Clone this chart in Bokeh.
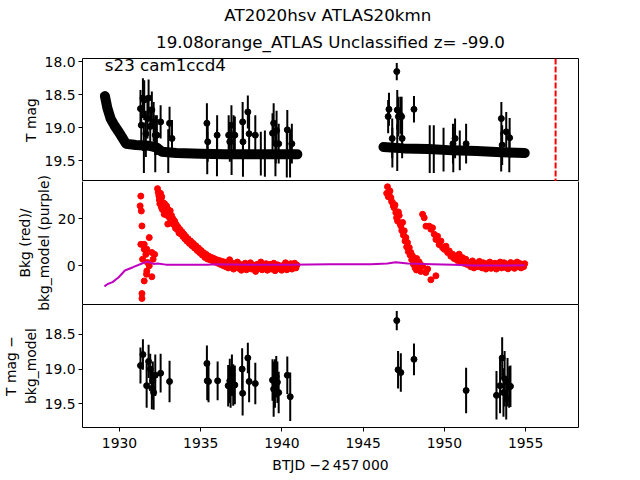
from bokeh.plotting import figure
from bokeh.layouts import column
from bokeh.models import Range1d, FixedTicker, NumeralTickFormatter, Span, Label, LinearAxis, Title
from bokeh.embed import file_html
from bokeh.resources import INLINE

TITLE_1 = "AT2020hsv  ATLAS20kmn"
TITLE_2 = "19.08orange_ATLAS Unclassified z= -99.0"
SECTOR_TEXT = "s23 cam1ccd4"
YLABEL_1 = "T mag"
YLABEL_2 = "Bkg (red)/\nbkg_model (purple)"
YLABEL_3 = "T mag \u2212\nbkg_model"
XLABEL = "BTJD \u22122\u2009457\u2009000"

# ---- top panel: dense light curve (centre of the dense band of points)
band1_t = [1929.10, 1929.25, 1929.45, 1929.70, 1929.95, 1930.20, 1930.40, 1931.00, 1931.80,
           1932.30, 1932.60, 1933.50, 1935.00, 1936.50, 1938.00, 1939.50, 1940.95]
band1_mag = [18.52, 18.70, 18.86, 18.97, 19.06, 19.16, 19.24, 19.26, 19.27,
             19.30, 19.36, 19.38, 19.39, 19.40, 19.40, 19.40, 19.40]
band2_t = [1946.25, 1947.50, 1949.00, 1950.50, 1952.00, 1953.50, 1954.95]
band2_mag = [19.29, 19.31, 19.32, 19.34, 19.35, 19.37, 19.38]

# top panel: individual points with error bars (time, mag, err)
top_points = [
    (1931.29, 18.71, 0.28), (1931.34, 18.96, 0.30), (1931.44, 18.55, 0.30), (1931.52, 18.58, 0.30),
    (1931.62, 19.09, 0.35), (1931.72, 18.86, 0.30), (1931.79, 18.55, 0.28), (1931.89, 18.98, 0.30),
    (1931.99, 18.73, 0.28), (1932.10, 18.91, 0.30), (1932.20, 19.11, 0.30), (1932.30, 19.11, 0.30),
    (1932.53, 18.91, 0.25), (1933.08, 18.93, 0.25), (1933.23, 19.16, 0.28), (1935.38, 18.93, 0.30),
    (1935.43, 19.21, 0.30), (1936.01, 19.11, 0.30), (1936.72, 19.11, 0.30), (1936.79, 19.21, 0.30),
    (1936.89, 18.96, 0.30), (1937.02, 19.11, 0.30), (1937.10, 19.11, 0.28), (1937.58, 18.91, 0.30),
    (1937.60, 19.21, 0.30), (1937.90, 18.76, 0.25), (1937.98, 19.09, 0.30), (1938.36, 19.11, 0.30),
    (1939.42, 19.08, 0.30), (1939.49, 18.93, 0.30), (1939.62, 19.24, 0.30), (1939.67, 19.04, 0.30),
    (1939.80, 19.24, 0.30), (1940.33, 19.03, 0.30), (1940.61, 19.24, 0.30),
    (1946.54, 18.83, 0.25), (1946.59, 18.72, 0.25), (1946.79, 19.16, 0.30), (1947.07, 18.15, 0.13),
    (1947.10, 18.73, 0.30), (1947.17, 18.83, 0.30), (1947.30, 18.81, 0.28), (1947.37, 18.83, 0.30),
    (1947.40, 19.16, 0.30), (1948.13, 18.72, 0.20), (1950.53, 19.24, 0.30), (1950.66, 19.16, 0.30),
    (1951.34, 19.24, 0.30), (1953.51, 18.86, 0.25), (1953.56, 19.26, 0.30), (1953.81, 19.06, 0.30),
    (1954.02, 19.15, 0.30),
    (1931.50, 19.30, 0.38), (1932.20, 19.32, 0.35), (1933.00, 19.35, 0.33), (1935.40, 19.38, 0.32),
    (1936.00, 19.38, 0.35), (1936.90, 19.38, 0.33), (1937.60, 19.39, 0.35), (1938.70, 19.39, 0.33),
    (1938.95, 19.39, 0.35), (1939.60, 19.39, 0.34), (1940.30, 19.39, 0.36), (1940.50, 19.39, 0.36),
    (1946.80, 19.30, 0.30), (1947.10, 19.30, 0.35), (1949.10, 19.32, 0.36), (1949.35, 19.32, 0.36),
    (1949.95, 19.33, 0.33), (1950.55, 19.33, 0.34), (1950.95, 19.34, 0.30), (1953.50, 19.36, 0.30),
    (1954.00, 19.37, 0.30),
]

marker_time = 1956.85  # red dashed line

# ---- middle panel: background (red) and background model (purple)
bkg_points = [
    # early spike
    (1931.31, 29.8), (1931.27, 25.6), (1931.34, 23.4), (1931.38, 17.0), (1931.31, 9.1), (1931.52, 9.1),
    (1931.52, 7.0), (1931.42, 2.7), (1931.62, 4.8), (1931.68, 7.0), (1931.83, 12.0), (1931.72, 1.3),
    (1931.68, -2.3), (1931.66, -3.7), (1931.52, -6.6), (1931.83, -0.1), (1931.99, 5.6), (1932.07, 2.7),
    (1932.16, 4.8), (1931.99, -4.8), (1931.38, -12.0), (1931.38, -14.1),
    # first orbit decay
    (1932.34, 33.0), (1932.38, 31.5), (1932.42, 30.0), (1932.45, 28.2), (1932.48, 26.5), (1932.52, 31.0),
    (1932.55, 27.5), (1932.58, 25.0), (1932.60, 29.5), (1932.64, 24.0), (1932.68, 27.0), (1932.72, 25.5),
    (1932.75, 22.0), (1932.78, 26.5), (1932.82, 24.5), (1932.86, 23.0), (1932.90, 25.5), (1932.94, 21.5),
    (1932.97, 17.8), (1933.00, 24.0), (1933.04, 22.5), (1933.08, 20.5), (1933.12, 23.5), (1933.16, 19.5),
    (1933.20, 21.5), (1933.25, 18.0), (1933.30, 20.0), (1933.35, 17.5), (1933.40, 19.0), (1933.45, 16.0),
    (1933.50, 17.5), (1933.55, 15.5), (1933.60, 16.5), (1933.66, 14.0), (1933.72, 15.5), (1933.78, 13.5),
    (1933.84, 14.5), (1933.90, 12.5), (1933.96, 13.5), (1934.02, 11.5), (1934.08, 12.5), (1934.15, 10.5),
    (1934.22, 11.5), (1934.30, 9.5), (1934.38, 10.5), (1934.46, 8.5), (1934.54, 9.5), (1934.62, 7.5),
    (1934.70, 8.5), (1934.78, 6.5), (1934.86, 7.5), (1934.94, 5.5), (1935.02, 6.5), (1935.10, 4.5),
    (1935.18, 5.5), (1935.26, 3.5), (1935.34, 4.8), (1935.42, 2.8), (1935.50, 4.0), (1935.58, 2.5),
    (1935.66, 3.5), (1935.74, 2.0), (1935.82, 3.0), (1935.90, 1.5), (1935.98, 2.5), (1936.06, 1.0),
    (1936.14, 2.2), (1936.22, 0.5), (1936.30, 1.8), (1936.38, 0.0), (1936.46, 1.5), (1936.54, -0.5),
    (1936.62, 1.2), (1936.70, -1.0), (1936.78, 2.5), (1936.86, -0.2), (1936.94, 1.0), (1937.02, -1.5),
    (1937.10, 0.8), (1937.18, -0.8), (1937.26, 1.5), (1937.34, -1.2), (1937.42, 0.5), (1937.50, -2.0),
    (1937.58, 0.2), (1937.66, -1.0), (1937.74, 1.0), (1937.82, -1.8), (1937.90, 0.0), (1937.98, -0.8),
    (1938.06, 1.2), (1938.14, -1.5), (1938.22, 0.2), (1938.30, -1.0), (1938.38, -2.5), (1938.46, 0.5),
    (1938.54, -1.2), (1938.62, -0.3), (1938.70, 1.5), (1938.78, -1.8), (1938.86, 0.0), (1938.94, -1.0),
    (1939.02, 0.8), (1939.10, -2.0), (1939.18, -0.5), (1939.26, 0.5), (1939.34, -1.5), (1939.42, -0.2),
    (1939.50, 1.0), (1939.58, -2.2), (1939.66, -0.8), (1939.74, 0.3), (1939.82, -1.3), (1939.90, -0.2),
    (1939.98, -2.0), (1940.06, 0.0), (1940.14, -1.0), (1940.22, 1.2), (1940.30, -1.8), (1940.38, -0.3),
    (1940.46, -1.2), (1940.54, 0.8), (1940.62, -1.5), (1940.70, -0.5), (1940.78, 1.0), (1940.86, -1.0),
    (1940.92, 0.2),
    # second orbit, first branch
    (1946.45, 31.0), (1946.50, 33.8), (1946.55, 29.5), (1946.60, 30.5), (1946.65, 32.0), (1946.71, 29.1),
    (1946.75, 27.5), (1946.81, 27.0), (1946.86, 25.5), (1946.91, 24.8), (1946.96, 26.0), (1947.01, 22.7),
    (1947.06, 20.5), (1947.12, 19.1), (1947.17, 23.0), (1947.22, 21.5), (1947.27, 18.0), (1947.32, 17.0),
    (1947.38, 15.0), (1947.43, 18.5), (1947.48, 13.0), (1947.53, 14.9), (1947.58, 10.5), (1947.63, 12.0),
    (1947.68, 8.0), (1947.73, 9.9), (1947.78, 6.0), (1947.84, 7.7), (1947.89, 4.5), (1947.94, 5.6),
    (1947.99, 2.5), (1948.04, 4.1), (1948.10, 0.5), (1948.15, 2.0), (1948.20, -1.0), (1948.25, 0.6),
    (1948.30, 3.0), (1948.28, -1.9), (1948.36, -1.0), (1948.45, 1.5), (1948.55, -2.5), (1948.66, -0.1),
    (1948.86, -3.0), (1948.97, -1.5), (1949.17, -6.1), (1949.48, -4.4),
    # second orbit, second branch
    (1948.66, 22.0), (1948.76, 20.5), (1948.87, 16.9), (1949.07, 16.9), (1949.17, 15.6), (1949.27, 16.2),
    (1949.38, 13.4), (1949.48, 11.2), (1949.58, 12.6), (1949.68, 9.0), (1949.79, 10.5), (1949.89, 7.7),
    (1949.99, 7.0), (1950.10, 8.3), (1950.20, 5.6), (1950.30, 6.3), (1950.40, 4.0), (1950.50, 4.9),
    (1950.60, 3.0), (1950.71, 4.1), (1950.80, 2.2), (1950.91, 4.9), (1951.00, 1.5), (1951.12, 3.4),
    (1951.20, 1.0), (1951.32, 2.7), (1951.40, 0.5), (1951.53, 1.3), (1951.62, -0.5), (1951.73, 2.0),
    (1951.82, -1.0), (1951.94, 0.6),
    (1952.00, 1.0), (1952.08, -0.5), (1952.16, 1.8), (1952.24, 0.2), (1952.32, -1.0), (1952.40, 1.2),
    (1952.48, 0.0), (1952.56, -1.5), (1952.64, 0.8), (1952.72, -0.6), (1952.80, 1.5), (1952.88, -1.2),
    (1952.96, 0.3), (1953.04, -0.8), (1953.12, 1.0), (1953.20, -1.5), (1953.28, 0.5), (1953.36, -0.3),
    (1953.44, 1.5), (1953.52, -1.0), (1953.60, 0.2), (1953.68, 1.2), (1953.76, -0.8), (1953.84, 0.6),
    (1953.92, -1.4), (1954.00, 0.0), (1954.08, 1.3), (1954.16, -0.6), (1954.24, 0.8), (1954.32, -1.2),
    (1954.40, 0.4), (1954.48, 1.5), (1954.56, -0.4), (1954.64, 0.9), (1954.72, -1.0), (1954.80, 0.5),
    (1954.88, -0.5), (1954.95, 0.8),
]

model_t = [1929.07, 1929.27, 1929.57, 1929.95, 1930.33, 1930.83, 1931.46, 1931.72, 1932.10, 1932.35,
           1932.85, 1934.12, 1935.38, 1935.88, 1937.90, 1940.43, 1942.95, 1945.48, 1946.49, 1947.00,
           1947.75, 1949.27, 1950.53, 1951.79, 1953.06, 1954.95]
model_v = [-8.9, -7.9, -7.1, -5.0, -2.1, -0.7, 1.1, 1.7, 0.7, 0.9,
           0.4, 0.3, 0.3, 0.6, 0.4, 0.4, 0.6, 0.6, 0.9, 1.4,
           0.9, 0.6, 0.3, 0.0, 0.0, 0.1]

# ---- bottom panel: T mag - bkg_model (time, mag, err)
diff_points = [
    (1931.29, 18.95, 0.26), (1931.44, 18.79, 0.22), (1931.67, 19.24, 0.32), (1931.79, 18.89, 0.24),
    (1931.89, 19.00, 0.22), (1931.99, 19.28, 0.30), (1932.05, 19.17, 0.28), (1932.10, 19.34, 0.25),
    (1932.20, 19.09, 0.30), (1932.53, 19.06, 0.28), (1933.08, 19.18, 0.30), (1935.38, 18.92, 0.26),
    (1935.40, 19.17, 0.28), (1935.48, 19.18, 0.30), (1936.04, 19.17, 0.28), (1936.69, 19.24, 0.30),
    (1936.79, 19.17, 0.32), (1936.84, 19.26, 0.30), (1936.92, 19.09, 0.30), (1937.00, 19.23, 0.30),
    (1937.10, 19.23, 0.28), (1937.55, 19.00, 0.30), (1937.58, 19.35, 0.32), (1937.90, 18.84, 0.22),
    (1937.98, 19.18, 0.30), (1938.36, 19.21, 0.30), (1939.42, 19.16, 0.30), (1939.49, 19.29, 0.40),
    (1939.57, 19.21, 0.35), (1939.65, 19.11, 0.30), (1939.72, 19.19, 0.30), (1939.80, 19.34, 0.30),
    (1940.33, 19.09, 0.27), (1940.51, 19.40, 0.35), (1947.07, 18.30, 0.14), (1947.15, 19.01, 0.27),
    (1947.32, 19.05, 0.28), (1948.13, 18.86, 0.23), (1951.34, 19.31, 0.33), (1953.21, 19.38, 0.35),
    (1953.43, 19.24, 0.40), (1953.56, 18.84, 0.30), (1953.64, 19.34, 0.35), (1953.71, 19.14, 0.40),
    (1953.81, 19.43, 0.30), (1953.89, 19.19, 0.35), (1953.99, 19.26, 0.30), (1954.07, 19.25, 0.30),
]

# ---- axis limits / ticks
x_lim = (1927.72, 1958.26)
x_ticks = [1930, 1935, 1940, 1945, 1950, 1955]
y1_lim = (19.81, 17.953)
y1_ticks = [18.0, 18.5, 19.0, 19.5]
y2_lim = (-16.7, 36.06)
y2_ticks = [0, 20]
y3_lim = (19.845, 18.067)
y3_ticks = [18.5, 19.0, 19.5]

FONT = "DejaVu Sans"
FS = "13.9px"
TITLE_FS = "16.7px"

# layout sizes (pixels)
BL, BR, FW, FH = 72, 56, 496, 123
TOP_B, BOT_B = 58, 50
OVER = 10  # middle panel canvas overlaps its neighbours so its long y-label is not cut

xr = Range1d(*x_lim)


def make_fig(y_lim, top_border, bottom_border, outline=True):
    p = figure(x_range=xr, y_range=Range1d(*y_lim), frame_width=FW, frame_height=FH,
               min_border_left=BL, min_border_right=BR, min_border_top=top_border,
               min_border_bottom=bottom_border, output_backend="svg", toolbar_location=None,
               title=None)
    p.xgrid.visible = False
    p.ygrid.visible = False
    p.outline_line_color = "black" if outline else None
    p.outline_line_alpha = 1.0
    p.outline_line_width = 1
    p.background_fill_color = "white"
    p.border_fill_alpha = 0
    return p


def style_axis(ax, ticks, fmt, label):
    ax.ticker = FixedTicker(ticks=ticks)
    ax.formatter = NumeralTickFormatter(format=fmt)
    ax.axis_label = label
    ax.axis_label_text_font = FONT
    ax.axis_label_text_font_size = FS
    ax.axis_label_text_font_style = "normal"
    ax.axis_label_text_color = "black"
    ax.major_label_text_font = FONT
    ax.major_label_text_font_size = FS
    ax.major_label_text_color = "black"
    ax.major_tick_out = 4
    ax.major_tick_in = 0
    ax.minor_tick_out = 0
    ax.minor_tick_in = 0
    ax.major_tick_line_color = "black"
    ax.axis_line_color = None
    ax.major_label_standoff = 3
    ax.axis_label_standoff = 3


# ---- top panel
p1 = make_fig(y1_lim, TOP_B, 0)
p1.xaxis.visible = False
style_axis(p1.yaxis[0], y1_ticks, "0.0", YLABEL_1)
p1.add_layout(Title(text=TITLE_2, align="center", text_font=FONT, text_font_size=TITLE_FS,
                    text_font_style="normal", text_color="black", standoff=14), "above")
p1.add_layout(Title(text=TITLE_1, align="center", text_font=FONT, text_font_size=TITLE_FS,
                    text_font_style="normal", text_color="black", standoff=-4), "above")
p1.line(band1_t, band1_mag, line_width=10, color="black", line_cap="round", line_join="round")
p1.line(band2_t, band2_mag, line_width=10, color="black", line_cap="round", line_join="round")
tt = [a for a, b, c in top_points]
tm = [b for a, b, c in top_points]
te = [c for a, b, c in top_points]
p1.segment(x0=tt, y0=[m - e for m, e in zip(tm, te)], x1=tt, y1=[m + e for m, e in zip(tm, te)],
           line_width=2, color="black")
p1.scatter(tt, tm, size=6, color="black")
p1.add_layout(Span(location=marker_time, dimension="height", line_color="red",
                   line_dash="6 2", line_width=2))
lx = x_lim[0] + 0.045 * (x_lim[1] - x_lim[0])
ly = y1_lim[0] + 0.95 * (y1_lim[1] - y1_lim[0])
p1.add_layout(Label(x=lx, y=ly, text=SECTOR_TEXT, text_font=FONT, text_font_size=TITLE_FS,
                    text_baseline="middle", text_align="left", text_color="black"))

# ---- middle panel (frame edges drawn by axes so that shared borders stay 1px)
p2 = make_fig(y2_lim, OVER, OVER, outline=False)
p2.margin = (-OVER, 0, -OVER, 0)
p2.xaxis.visible = False
style_axis(p2.yaxis[0], y2_ticks, "0", YLABEL_2)
p2.yaxis[0].axis_line_color = "black"
right_ax = LinearAxis(ticker=FixedTicker(ticks=[]), major_label_text_font_size="0px",
                      axis_line_color="black", major_tick_out=0, minor_tick_out=0)
p2.add_layout(right_ax, "right")
bt = [a for a, b in bkg_points]
bv = [b for a, b in bkg_points]
p2.scatter(bt, bv, size=6, color="red")
p2.line(model_t, model_v, line_width=2, color="#bf00bf")

# ---- bottom panel
p3 = make_fig(y3_lim, 0, BOT_B)
style_axis(p3.yaxis[0], y3_ticks, "0.0", YLABEL_3)
style_axis(p3.xaxis[0], x_ticks, "0", XLABEL)
p3.xaxis[0].major_label_standoff = 6
p3.xaxis[0].axis_label_standoff = 6
dt = [a for a, b, c in diff_points]
dm = [b for a, b, c in diff_points]
de = [c for a, b, c in diff_points]
p3.segment(x0=dt, y0=[m - e for m, e in zip(dm, de)], x1=dt, y1=[m + e for m, e in zip(dm, de)],
           line_width=2, color="black")
p3.scatter(dt, dm, size=6, color="black")

layout = column(p1, p2, p3, spacing=0)
open("out.html", "w").write(file_html(layout, INLINE))
